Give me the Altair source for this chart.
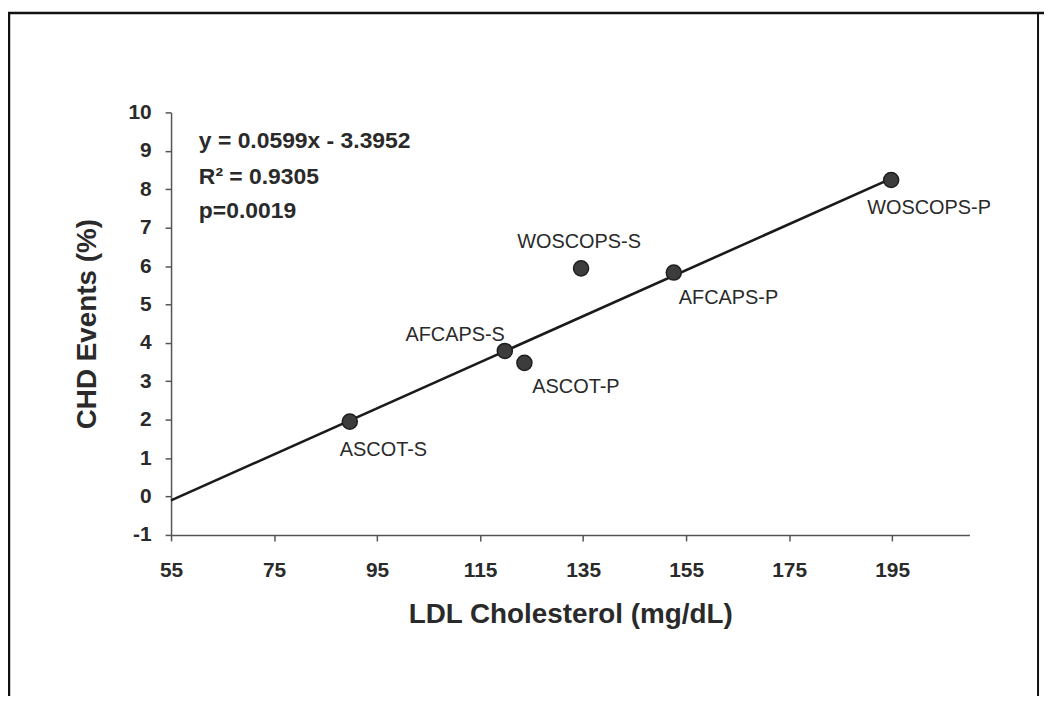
import altair as alt
import pandas as pd

# ---- data ----
trials = ["ASCOT-S", "AFCAPS-S", "ASCOT-P", "WOSCOPS-S", "AFCAPS-P", "WOSCOPS-P"]
ldl = [89.7, 119.8, 123.6, 134.6, 152.6, 194.8]
chd = [1.95, 3.79, 3.48, 5.94, 5.83, 8.24]

fit_x = [55, 195]
fit_y = [-0.10, 8.29]

eq_lines = ["y = 0.0599x - 3.3952", "R\u00b2 = 0.9305", "p=0.0019"]
eq_x = [60.4, 60.4, 60.4]
eq_y = [9.07, 8.14, 7.26]

x_ticks = [55, 75, 95, 115, 135, 155, 175, 195]
y_ticks = [-1, 0, 1, 2, 3, 4, 5, 6, 7, 8, 9, 10]

pts = pd.DataFrame({"trial": trials, "ldl": ldl, "chd": chd})
fit = pd.DataFrame({"ldl": fit_x, "chd": fit_y})
eq = pd.DataFrame({"txt": eq_lines, "ldl": eq_x, "chd": eq_y})

FONT = "Liberation Sans"
INK = "#2a2a2a"
LBL = "datum.value < 0 ? '-' + abs(datum.value) : '' + datum.value"

xs = alt.Scale(domain=[55, 210], nice=False, zero=False)
ys = alt.Scale(domain=[-1, 10], nice=False, zero=False)

xaxis = alt.Axis(values=x_ticks, title="LDL Cholesterol (mg/dL)", grid=False,
                 labelFontSize=21, labelFontWeight="bold", labelFont=FONT,
                 labelColor=INK, labelPadding=19, tickSize=6,
                 labelFlush=False, labelOverlap=False, labelExpr=LBL,
                 titleFont=FONT, titleFontSize=28, titleFontWeight="bold",
                 titleColor=INK, titlePadding=20, domainColor="#555555",
                 tickColor="#555555", domainWidth=1.5, tickWidth=1.5)
yaxis = alt.Axis(values=y_ticks, title="CHD Events (%)", grid=False,
                 labelFontSize=21, labelFontWeight="bold", labelFont=FONT,
                 labelColor=INK, labelPadding=14, tickSize=6,
                 labelFlush=False, labelOverlap=False, labelSeparation=0,
                 labelExpr=LBL, labelBound=False,
                 titleFont=FONT, titleFontSize=28, titleFontWeight="bold",
                 titleColor=INK, titlePadding=27, domainColor="#555555",
                 tickColor="#555555", domainWidth=1.5, tickWidth=1.5)


def X():
    return alt.X("ldl:Q", scale=xs, axis=xaxis)


def Y():
    return alt.Y("chd:Q", scale=ys, axis=yaxis)


line = alt.Chart(fit).mark_line(color="#1a1a1a", strokeWidth=2.6).encode(x=X(), y=Y())

points = alt.Chart(pts).mark_circle(
    size=230, color="#3c3c3c", stroke="#1e1e1e", strokeWidth=1.5, opacity=1
).encode(x=X(), y=Y())

label_style = {
    "ASCOT-S": dict(align="left", dx=-10, dy=35),
    "AFCAPS-S": dict(align="right", dx=0, dy=-10),
    "ASCOT-P": dict(align="left", dx=8, dy=30),
    "WOSCOPS-S": dict(align="center", dx=-2, dy=-20),
    "AFCAPS-P": dict(align="left", dx=5, dy=32),
    "WOSCOPS-P": dict(align="left", dx=-24, dy=34),
}
labels = []
for t, st in label_style.items():
    labels.append(
        alt.Chart(pts).transform_filter(alt.datum.trial == t).mark_text(
            font=FONT, fontSize=20, color=INK, baseline="alphabetic", **st
        ).encode(x=X(), y=Y(), text="trial:N")
    )

eq_text = alt.Chart(eq).mark_text(
    font=FONT, fontSize=23, fontWeight="bold", color=INK,
    align="left", baseline="alphabetic"
).encode(x=X(), y=Y(), text="txt:N")

one = pd.DataFrame({"a": [0]})
border_top = alt.Chart(one).mark_rule(color="#111111", strokeWidth=2.5).encode(
    x=alt.value(-164), x2=alt.value(880), y=alt.value(-100))
border_left = alt.Chart(one).mark_rule(color="#111111", strokeWidth=2.5).encode(
    x=alt.value(-163), y=alt.value(-100), y2=alt.value(600))
border_right = alt.Chart(one).mark_rule(color="#111111", strokeWidth=2).encode(
    x=alt.value(872), y=alt.value(-100), y2=alt.value(600))

chart = alt.layer(
    line, points, *labels, eq_text, border_top, border_left, border_right
).properties(
    width=803, height=425,
    autosize=alt.AutoSizeParams(type="none"),
    padding={"left": 164, "top": 103, "right": 75, "bottom": 160},
    background="white",
).configure_view(stroke="transparent").configure_axis(labelOverlap=False)

chart.save("out.html", embed_options={"renderer": "svg", "actions": False})
